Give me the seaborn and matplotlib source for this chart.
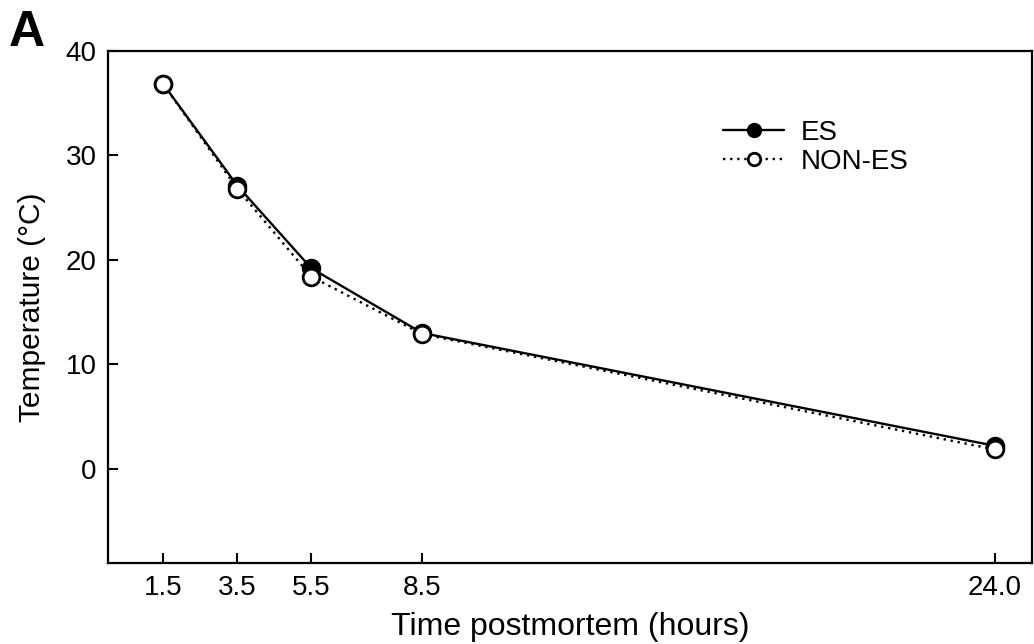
import matplotlib
matplotlib.use("Agg")
import matplotlib.pyplot as plt
import seaborn as sns
import pandas as pd

hours = [1.5, 3.5, 5.5, 8.5, 24.0]
es_temp = [36.8, 27.1, 19.2, 13.0, 2.2]
nones_temp = [36.8, 26.8, 18.4, 12.9, 1.85]
x_ticks = [1.5, 3.5, 5.5, 8.5, 24.0]
x_tick_labels = ["1.5", "3.5", "5.5", "8.5", "24.0"]
y_ticks = [0, 10, 20, 30, 40]

sns.set_theme(style="white")
plt.rcParams['font.family'] = ['Liberation Sans', 'DejaVu Sans']
plt.rcParams['text.color'] = 'black'
plt.rcParams['axes.labelcolor'] = 'black'

fig = plt.figure(figsize=(10.34, 6.44), dpi=100)
ax = fig.add_axes([0.1044, 0.126, 0.8936, 0.795])

df_es = pd.DataFrame({"h": hours, "t": es_temp})
df_non = pd.DataFrame({"h": hours, "t": nones_temp})

sns.lineplot(data=df_es, x="h", y="t", ax=ax, color="black", linewidth=1.7,
             linestyle="-", marker="o", markersize=12, markerfacecolor="black",
             markeredgecolor="black", markeredgewidth=2.0, label="ES", zorder=3)
sns.lineplot(data=df_non, x="h", y="t", ax=ax, color="black", linewidth=1.7,
             linestyle=(0, (1, 2)), marker="o", markersize=12, markerfacecolor="white",
             markeredgecolor="black", markeredgewidth=2.0, label="NON-ES", zorder=4)

ax.set_xlim(0, 25)
ax.set_ylim(-9, 40)
ax.set_xticks(x_ticks)
ax.set_xticklabels(x_tick_labels)
ax.set_yticks(y_ticks)
ax.tick_params(axis="both", direction="in", length=7, width=1.5, labelsize=20,
               colors="black", bottom=True, left=True, top=False, right=False)
ax.tick_params(axis="x", pad=9)
ax.tick_params(axis="y", pad=8)
for s in ax.spines.values():
    s.set_visible(True)
    s.set_color("black")
    s.set_linewidth(1.6)

ax.set_xlabel("Time postmortem (hours)", fontsize=23, labelpad=8)
ax.set_ylabel("Temperature (°C)", fontsize=21.5, labelpad=14)

leg = ax.legend(frameon=False, loc="upper left", bbox_to_anchor=(0.654, 0.887),
                fontsize=20, handlelength=2.2, handletextpad=0.6, labelspacing=0.12,
                markerscale=0.75, borderaxespad=0)

fig.text(0.008, 0.913, "A", fontsize=36, fontweight="bold", ha="left", va="bottom")

fig.savefig("out.png", dpi=100)
